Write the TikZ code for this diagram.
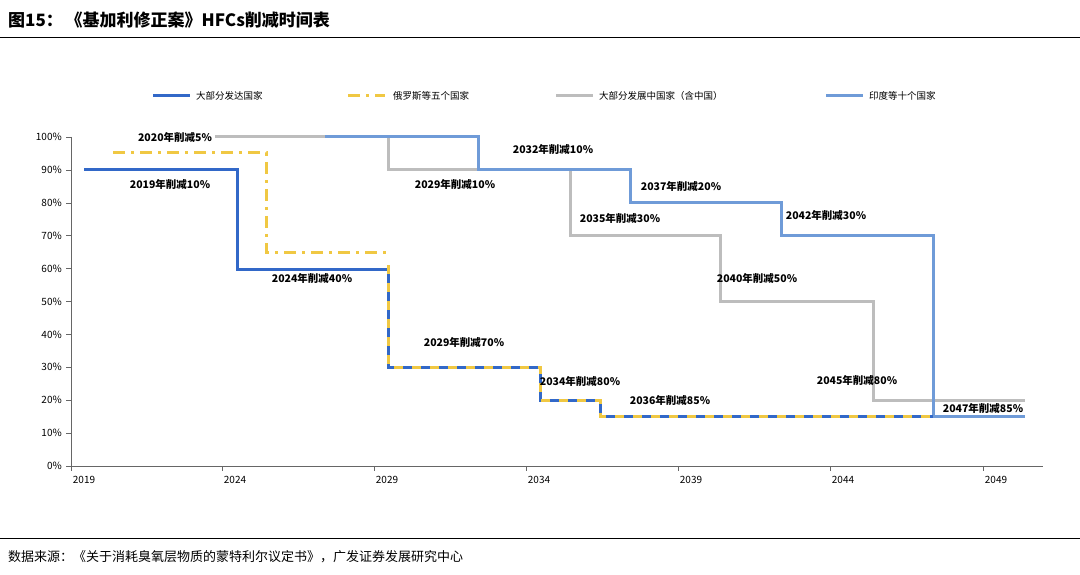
\documentclass[tikz,border=0pt]{standalone}
\usepackage{fontspec}
\setmainfont{Noto Sans CJK SC}
\begin{document}
\begin{tikzpicture}[x=1pt,y=-1pt,
  lab/.style={font=\bfseries\fontsize{10.5}{12}\selectfont, inner sep=1pt},
  ylab/.style={font=\fontsize{10}{12}\selectfont, anchor=east, inner sep=1pt},
  xlab/.style={font=\fontsize{10}{12}\selectfont, inner sep=1pt},
  leg/.style={font=\fontsize{9.5}{12}\selectfont, anchor=west, inner sep=1pt},
  dblue/.style={draw=cdblue, line width=3pt},
  lblue/.style={draw=clblue, line width=3pt},
  gry/.style={draw=cgray, line width=3pt},
  yel/.style={draw=cyel, line width=3pt, dash pattern=on 12pt off 6pt on 3pt off 6pt},
  yelov/.style={draw=cyel, line width=3pt, dash pattern=on 9pt off 9pt}]
\definecolor{cdblue}{HTML}{3268C8}
\definecolor{clblue}{HTML}{6F9BD8}
\definecolor{cgray}{HTML}{BDBDBD}
\definecolor{cyel}{HTML}{F0C843}
\useasboundingbox (0,0) rectangle (1080,575);
% title
\node[anchor=west, font=\bfseries\fontsize{17}{20}\selectfont, inner sep=0] (title) at (8,20) {图15：\,《基加利修正案》HFCs削减时间表};
\draw[line width=1pt] (0,38) -- (1080,38);
\draw[line width=0.8pt] (0,538) -- (1080,538);
\node[anchor=west, font=\fontsize{13}{15}\selectfont, inner sep=0] (src) at (8,557) {数据来源：《关于消耗臭氧层物质的蒙特利尔议定书》，广发证券发展研究中心};
% legend
\draw[dblue] (153,96) -- (190,96); \node[leg] (l1) at (195,96) {大部分发达国家};
\draw[cyel, line width=3pt, dash pattern=on 12pt off 6pt on 3pt off 6pt] (348,96) -- (385,96); \node[leg] (l2) at (392,96) {俄罗斯等五个国家};
\draw[gry] (556,96) -- (593,96); \node[leg] (l3) at (598,96) {大部分发展中国家（含中国）};
\draw[lblue] (826,96) -- (863,96); \node[leg] (l4) at (868,96) {印度等十个国家};
% axes
\draw[gray!80!black, line width=0.8pt] (71,137) -- (71,466) -- (1043,466);
\foreach \p [count=\i from 0] in {0,10,...,100}{
  \pgfmathsetmacro{\yy}{466-3.29*\p}
  \draw[gray!80!black, line width=0.6pt] (66,\yy) -- (71,\yy);
  \node[ylab] (y\i) at (63,\yy) {\p\%};
}
\foreach \yr/\xx in {2019/71,2024/222,2029/374,2034/526,2039/678,2044/830,2049/983}{
  \draw[gray!80!black, line width=0.6pt] (\xx,466) -- (\xx,471);
  \node[xlab] (x\yr) at (\xx+13,480) {\yr};
}
% gray
\draw[gry] (215,137) -- (388,137) -- (388,170) -- (570,170) -- (570,236) -- (720,236) -- (720,301) -- (873,301) -- (873,400) -- (1025,400);
% light blue
\draw[lblue] (325,137) -- (478,137) -- (478,170) -- (630,170) -- (630,203) -- (781,203) -- (781,236) -- (933,236) -- (933,416) -- (1025,416);
% yellow first part
\draw[yel] (113,153) -- (266,153) -- (266,252) -- (388,252);
% dark blue
\draw[dblue] (84,170) -- (237,170) -- (237,269) -- (388,269) -- (388,367) -- (540,367) -- (540,400) -- (600,400) -- (600,416) -- (933,416);
\draw[yelov] (388,265) -- (388,367) -- (540,367) -- (540,400) -- (600,400) -- (600,416) -- (933,416);
% labels
\node[lab] (a1) at (175,137) {2020年削减5\%};
\node[lab] (a2) at (170,184) {2019年削减10\%};
\node[lab] (a3) at (312,278) {2024年削减40\%};
\node[lab] (a4) at (464,342) {2029年削减70\%};
\node[lab] (a5) at (580,381) {2034年削减80\%};
\node[lab] (a6) at (670,400) {2036年削减85\%};
\node[lab] (a7) at (553,149) {2032年削减10\%};
\node[lab] (a8) at (455,184) {2029年削减10\%};
\node[lab] (a9) at (681,186) {2037年削减20\%};
\node[lab] (a10) at (620,218) {2035年削减30\%};
\node[lab] (a11) at (826,215) {2042年削减30\%};
\node[lab] (a12) at (757,278) {2040年削减50\%};
\node[lab] (a13) at (857,380) {2045年削减80\%};
\node[lab] (a14) at (983,408) {2047年削减85\%};
\end{tikzpicture}
\end{document}
